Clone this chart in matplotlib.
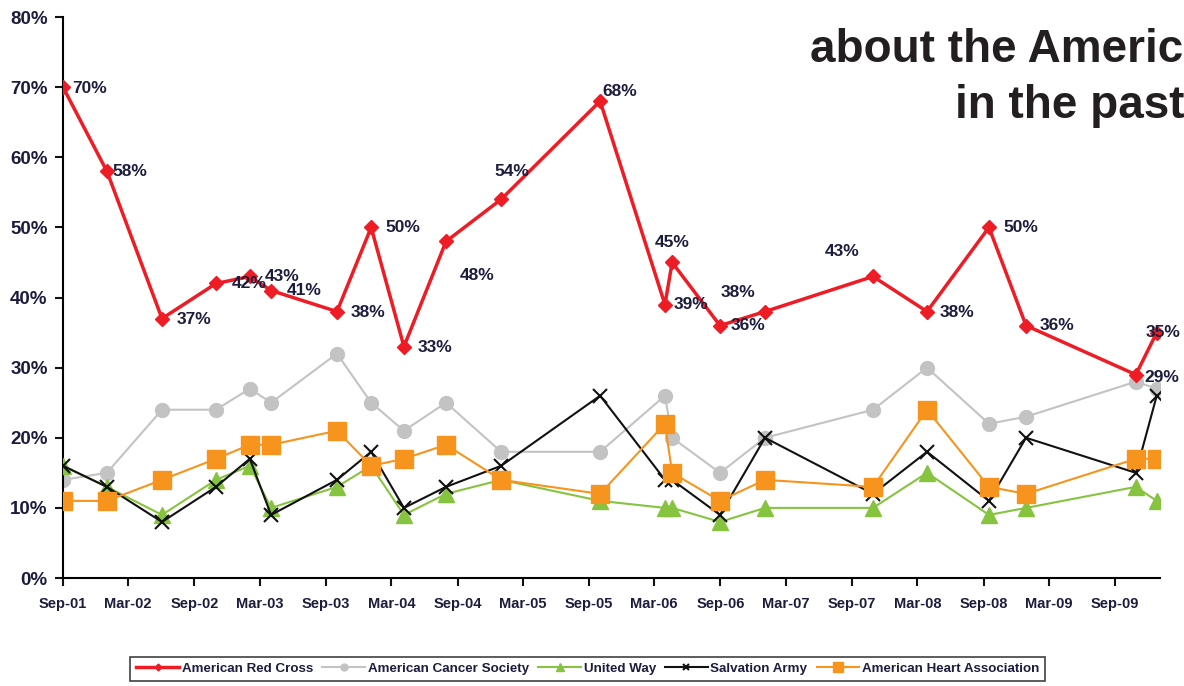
import matplotlib
matplotlib.use("Agg")
import matplotlib.pyplot as plt
import numpy as np
import pandas as pd

plt.rcParams['font.family'] = ['Liberation Sans', 'DejaVu Sans']

# survey dates (irregular) and results in %
dates = ['2001-09-01', '2002-01-01', '2002-06-03', '2002-10-31', '2003-02-02',
         '2003-04-02', '2003-10-02', '2004-01-05', '2004-04-05', '2004-07-31',
         '2004-12-31', '2005-10-02', '2006-03-31', '2006-04-20', '2006-08-31',
         '2007-01-03', '2007-10-30', '2008-03-28', '2008-09-16', '2008-12-28',
         '2009-10-29', '2009-12-26']
red_cross = [70, 58, 37, 42, 43, 41, 38, 50, 33, 48, 54, 68, 39, 45, 36, 38, 43, 38, 50, 36, 29, 35]
cancer = [14, 15, 24, 24, 27, 25, 32, 25, 21, 25, 18, 18, 26, 20, 15, 20, 24, 30, 22, 23, 28, 27]
united_way = [16, 13, 9, 14, 16, 10, 13, 16, 9, 12, 14, 11, 10, 10, 8, 10, 10, 15, 9, 10, 13, 11]
salvation = [16, 13, 8, 13, 17, 9, 14, 18, 10, 13, 16, 26, 14, 14, 9, 20, 12, 18, 11, 20, 15, 26]
heart = [11, 11, 14, 17, 19, 19, 21, 16, 17, 19, 14, 12, 22, 15, 11, 14, 13, 24, 13, 12, 17, 17]

# label offsets (pixels) for the red cross data labels
label_off = [(27, -1), (23, 0), (32, -1), (33, 0), (32, 0), (33, 0), (31, -1), (32, 0),
             (31, -1), (31, -34), (11, 28), (20, 10), (26, 0), (0, 20), (28, 0),
             (-27, 19), (-31, 25), (30, -1), (32, 0), (31, 0), (26, -3), (6, 0)]

x = pd.to_datetime(dates)
ticks = pd.date_range('2001-09-01', '2009-09-01', freq='6MS')

fig = plt.figure(figsize=(11.84, 6.86), dpi=100)
ax = fig.add_axes([0.0532, 0.1574, 0.9265, 0.8178])

navy = '#1c1c3c'

ax.plot(x, cancer, color='#c3c3c3', lw=1.5, marker='o', ms=10, mec='#c3c3c3',
        label='American Cancer Society', zorder=2)
ax.plot(x, united_way, color='#86c440', lw=1.5, marker='^', ms=11, mec='#86c440',
        label='United Way', zorder=3)
ax.plot(x, salvation, color='#111111', lw=1.5, marker='x', ms=10, mew=1.5,
        label='Salvation Army', zorder=4)
ax.plot(x, heart, color='#f7941d', lw=1.5, marker='s', ms=13, mec='#f7941d',
        label='American Heart Association', zorder=5)
ax.plot(x, red_cross, color='#ee1c25', lw=2.5, marker='D', ms=7, mec='#ee1c25',
        label='American Red Cross', zorder=6)

for xi, v, (dx, dy) in zip(x, red_cross, label_off):
    ax.annotate(f'{v}%', (xi, v), xytext=(dx, dy), textcoords='offset pixels',
                ha='center', va='center', fontsize=12.5, fontweight='bold',
                color=navy, zorder=7, annotation_clip=False)

ax.set_ylim(0, 80)
ax.set_yticks(np.arange(0, 81, 10))
ax.set_yticklabels([f'{v}%' for v in range(0, 81, 10)])
ax.set_xlim(pd.Timestamp('2001-09-01'), pd.Timestamp('2010-01-04'))
ax.set_xticks(ticks)
ax.set_xticklabels([t.strftime('%b-%y') for t in ticks])

for s in ['top', 'right']:
    ax.spines[s].set_visible(False)
for s in ['left', 'bottom']:
    ax.spines[s].set_linewidth(1.5)
ax.tick_params(axis='both', direction='out', length=6, width=1.5, colors='#111111')
ax.tick_params(axis='y', labelsize=13.5, labelcolor=navy, pad=5)
ax.tick_params(axis='x', labelsize=10.5, labelcolor=navy, pad=8)
for lab in ax.get_xticklabels() + ax.get_yticklabels():
    lab.set_fontweight('bold')

# title fragment, cut at the right edge as in the source
fig.text(0.684, 0.91, 'about the Americ', fontsize=33, fontweight='bold',
         color='#231f20', ha='left', va='baseline')
fig.text(0.807, 0.828, 'in the past', fontsize=33, fontweight='bold',
         color='#231f20', ha='left', va='baseline')

handles, labels = ax.get_legend_handles_labels()
order = [4, 0, 1, 2, 3]
leg = fig.legend([handles[i] for i in order], [labels[i] for i in order],
                 loc='center', bbox_to_anchor=(0.4966, 0.0248), ncol=5,
                 frameon=True, fancybox=False, edgecolor='#111111',
                 fontsize=9.6, handlelength=3.2, handletextpad=0.2,
                 columnspacing=0.7, borderpad=0.45, markerscale=0.5)
leg.get_frame().set_linewidth(1.2)
for t in leg.get_texts():
    t.set_color(navy)
    t.set_fontweight('bold')

fig.savefig('out.png', dpi=100)
